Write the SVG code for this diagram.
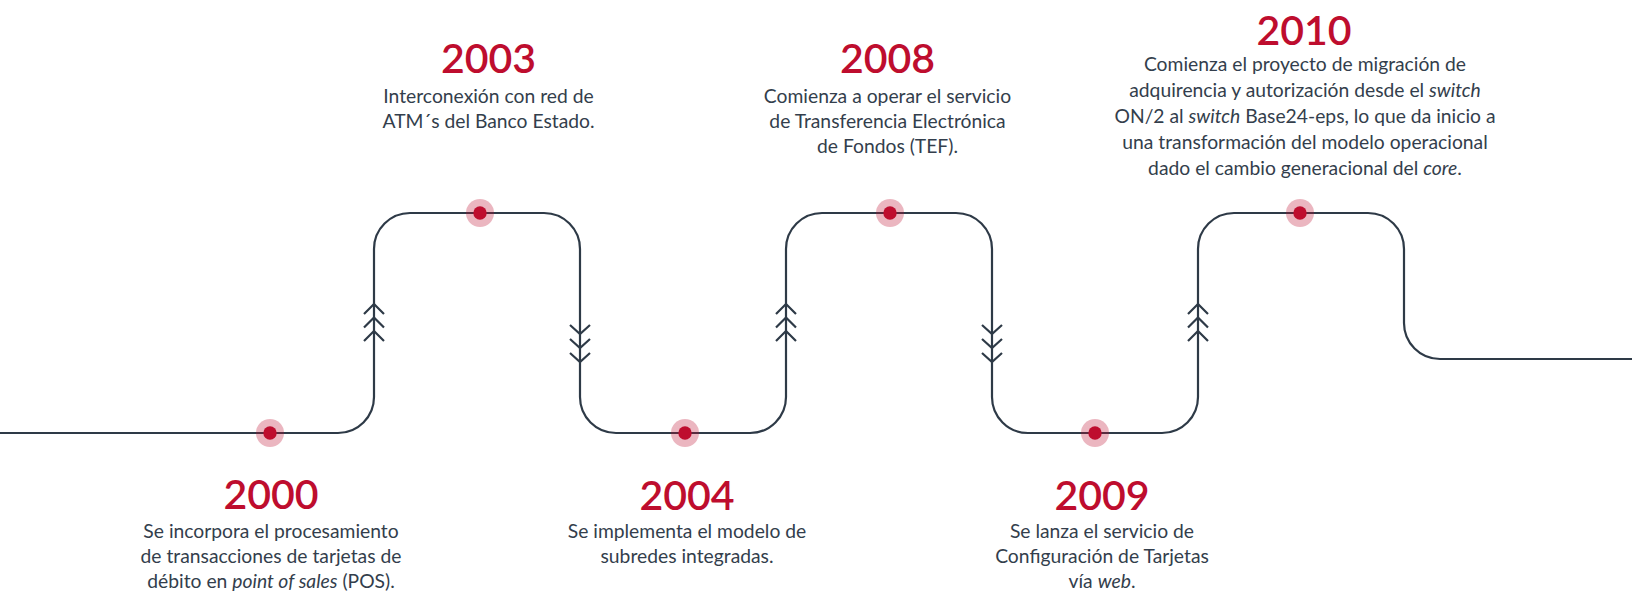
<svg xmlns="http://www.w3.org/2000/svg" width="1632" height="598" viewBox="0 0 1632 598">
<style>
.yr{font-family:Lato,"Noto Sans",sans-serif;font-size:41px;font-weight:600;fill:#BE0D2E;text-anchor:middle}
.tx{font-family:Lato,"Noto Sans",sans-serif;font-size:19.3px;fill:#333E4C;text-anchor:middle}
.it{font-style:italic}
.ln{fill:none;stroke:#2E3A47;stroke-width:2.2}
.ch{fill:none;stroke:#2E3A47;stroke-width:2.2}
.halo{fill:#BE0D2E;fill-opacity:0.3}
.dot{fill:#BE0D2E}
</style>
<defs>
<g id="up"><path class="ch" d="M-10,10 L0,0 L10,10 M-10,23.5 L0,13.5 L10,23.5 M-10,37 L0,27 L10,37"/></g>
<g id="down"><path class="ch" d="M-10,-9 L0,0 L10,-9 M-10,5 L0,14 L10,5 M-10,19 L0,28 L10,19"/></g>
<g id="pt"><circle class="halo" r="14"/><circle class="dot" r="6.7"/></g>
</defs>
<g id="connectors">
<path class="ln" d="M0,433 H338 A36,36 0 0 0 374,397 V249 A36,36 0 0 1 410,213 H544 A36,36 0 0 1 580,249 V397 A36,36 0 0 0 616,433 H750 A36,36 0 0 0 786,397 V249 A36,36 0 0 1 822,213 H956 A36,36 0 0 1 992,249 V397 A36,36 0 0 0 1028,433 H1162 A36,36 0 0 0 1198,397 V249 A36,36 0 0 1 1234,213 H1368 A36,36 0 0 1 1404,249 V323 A36,36 0 0 0 1440,359 H1632"/>
<use href="#up" x="374" y="304"/>
<use href="#down" x="580" y="334"/>
<use href="#up" x="786" y="304"/>
<use href="#down" x="992" y="334"/>
<use href="#up" x="1198" y="304"/>
</g>
<g id="n2000">
<use href="#pt" x="270" y="433"/>
<text class="yr" x="271" y="509">2000</text>
<text class="tx" x="271" y="538">Se incorpora el procesamiento</text>
<text class="tx" x="271" y="563">de transacciones de tarjetas de</text>
<text class="tx" x="271" y="588">débito en <tspan class="it">point of sales</tspan> (POS).</text>
</g>
<g id="n2003">
<use href="#pt" x="480" y="213"/>
<text class="yr" x="488.5" y="73">2003</text>
<text class="tx" x="488.5" y="102.5">Interconexión con red de</text>
<text class="tx" x="488.5" y="127.5">ATM´s del Banco Estado.</text>
</g>
<g id="n2004">
<use href="#pt" x="685" y="433"/>
<text class="yr" x="687" y="510">2004</text>
<text class="tx" x="687" y="538">Se implementa el modelo de</text>
<text class="tx" x="687" y="563">subredes integradas.</text>
</g>
<g id="n2008">
<use href="#pt" x="890" y="213"/>
<text class="yr" x="887.5" y="73">2008</text>
<text class="tx" x="887.5" y="102.7">Comienza a operar el servicio</text>
<text class="tx" x="887.5" y="127.7">de Transferencia Electrónica</text>
<text class="tx" x="887.5" y="152.7">de Fondos (TEF).</text>
</g>
<g id="n2009">
<use href="#pt" x="1095" y="433"/>
<text class="yr" x="1102" y="510">2009</text>
<text class="tx" x="1102" y="538">Se lanza el servicio de</text>
<text class="tx" x="1102" y="563">Configuración de Tarjetas</text>
<text class="tx" x="1102" y="588">vía <tspan class="it">web</tspan>.</text>
</g>
<g id="n2010">
<use href="#pt" x="1300" y="213"/>
<text class="yr" x="1304" y="45">2010</text>
<text class="tx" x="1305" y="71">Comienza el proyecto de migración de</text>
<text class="tx" x="1305" y="97">adquirencia y autorización desde el <tspan class="it">switch</tspan></text>
<text class="tx" x="1305" y="123">ON/2 al <tspan class="it">switch</tspan> Base24-eps, lo que da inicio a</text>
<text class="tx" x="1305" y="149">una transformación del modelo operacional</text>
<text class="tx" x="1305" y="175">dado el cambio generacional del <tspan class="it">core</tspan>.</text>
</g>
</svg>
